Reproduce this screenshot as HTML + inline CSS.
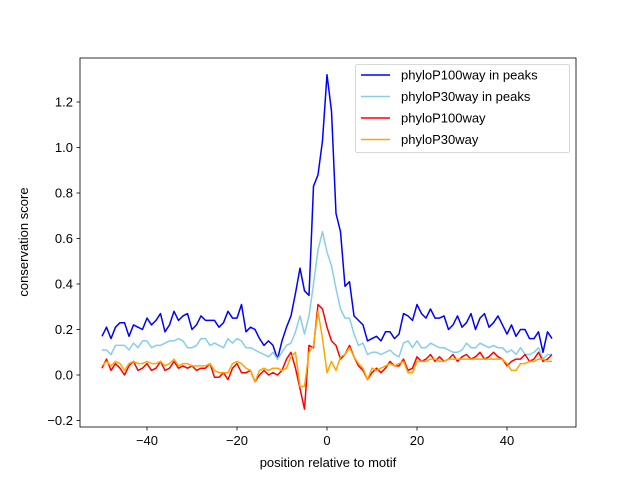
<!DOCTYPE html>
<html><head><meta charset="utf-8"><style>body{margin:0;background:#fff}svg{display:block;font-family:"Liberation Sans","DejaVu Sans",sans-serif}</style></head>
<body>
<svg id="chart" width="640" height="480" xmlns="http://www.w3.org/2000/svg"></svg>
<script>
const positions = Array.from({length:101},(_, i)=>i-50);
const p100peaks = [0.17,0.21,0.16,0.21,0.23,0.23,0.17,0.22,0.21,0.20,0.25,0.22,0.24,0.27,0.19,0.22,0.28,0.24,0.26,0.27,0.20,0.22,0.26,0.24,0.24,0.24,0.21,0.23,0.28,0.25,0.25,0.31,0.19,0.21,0.20,0.16,0.13,0.15,0.13,0.07,0.15,0.21,0.26,0.36,0.47,0.37,0.35,0.83,0.88,1.03,1.32,1.16,0.71,0.63,0.39,0.41,0.26,0.24,0.22,0.15,0.16,0.17,0.15,0.19,0.19,0.16,0.18,0.27,0.26,0.24,0.31,0.27,0.25,0.29,0.25,0.25,0.26,0.20,0.22,0.26,0.21,0.23,0.27,0.20,0.25,0.27,0.21,0.23,0.26,0.22,0.18,0.22,0.17,0.20,0.20,0.16,0.16,0.19,0.10,0.19,0.16];
const p30peaks = [0.11,0.11,0.09,0.13,0.13,0.13,0.11,0.14,0.12,0.15,0.15,0.12,0.13,0.13,0.14,0.15,0.15,0.16,0.15,0.12,0.12,0.13,0.16,0.16,0.13,0.14,0.13,0.12,0.16,0.14,0.16,0.15,0.12,0.12,0.11,0.10,0.09,0.08,0.10,0.07,0.10,0.13,0.14,0.19,0.26,0.18,0.26,0.40,0.55,0.63,0.54,0.48,0.38,0.29,0.25,0.25,0.18,0.13,0.14,0.09,0.10,0.10,0.09,0.10,0.11,0.09,0.08,0.14,0.15,0.12,0.15,0.12,0.12,0.14,0.13,0.12,0.12,0.11,0.10,0.10,0.11,0.14,0.12,0.12,0.14,0.13,0.12,0.13,0.12,0.12,0.10,0.11,0.09,0.12,0.09,0.09,0.10,0.12,0.07,0.09,0.09];
const p100 = [0.03,0.07,0.02,0.05,0.03,0.00,0.04,0.06,0.02,0.03,0.05,0.02,0.03,0.06,0.02,0.03,0.06,0.03,0.04,0.03,0.04,0.02,0.03,0.03,0.05,-0.01,-0.01,0.01,-0.02,0.03,0.05,0.01,0.01,0.02,-0.03,0.00,0.02,0.00,0.01,0.00,0.02,0.07,0.10,0.03,-0.06,-0.15,0.13,0.12,0.31,0.29,0.21,0.15,0.13,0.07,0.09,0.13,0.08,0.04,0.02,-0.02,0.01,0.03,0.01,0.03,0.06,0.04,0.04,0.07,0.02,0.03,0.08,0.06,0.07,0.09,0.06,0.08,0.06,0.07,0.09,0.06,0.08,0.09,0.07,0.08,0.10,0.07,0.08,0.10,0.08,0.07,0.04,0.06,0.07,0.07,0.09,0.06,0.07,0.10,0.06,0.07,0.09];
const p30 = [0.04,0.06,0.04,0.06,0.05,0.02,0.05,0.06,0.05,0.05,0.06,0.05,0.05,0.06,0.04,0.05,0.07,0.04,0.05,0.05,0.04,0.04,0.04,0.04,0.05,0.02,0.01,0.01,0.01,0.05,0.06,0.05,0.03,0.02,-0.03,0.02,0.03,0.02,0.03,0.03,0.02,0.03,0.08,0.10,-0.05,-0.05,0.10,0.13,0.28,0.16,0.01,0.06,0.02,0.08,0.09,0.12,0.08,0.05,0.03,-0.02,0.03,0.02,0.03,0.04,0.05,0.04,0.05,0.06,0.01,0.01,0.06,0.06,0.06,0.07,0.07,0.06,0.06,0.07,0.07,0.07,0.07,0.07,0.07,0.07,0.07,0.07,0.07,0.07,0.07,0.07,0.05,0.02,0.02,0.05,0.05,0.06,0.06,0.07,0.07,0.06,0.06];
const xTicks = [-40,-20,0,20,40];
const yTicks = [-0.2,0,0.2,0.4,0.6,0.8,1.0,1.2];
const seriesNames = ["phyloP100way in peaks","phyloP30way in peaks","phyloP100way","phyloP30way"];
const seriesColors = ["#0000ff","#87ceeb","#ff0000","#ffa500"];

const L=80,R=576,T=58,B=427;
const X=v=>327+(v)*4.5;
const Y=v=>375-v*227.5;
const svg=document.getElementById('chart');
const NS='http://www.w3.org/2000/svg';
function mk(tag,attrs,parent){const e=document.createElementNS(NS,tag);for(const k in attrs)e.setAttribute(k,attrs[k]);(parent||svg).appendChild(e);return e;}

const series=[p100peaks,p30peaks,p100,p30];
series.forEach((s,si)=>{
  const p=mk('polyline',{points:s.map((v,i)=>X(positions[i]).toFixed(1)+','+Y(v).toFixed(1)).join(' '),fill:'none',stroke:seriesColors[si],'stroke-width':1.5,'stroke-linejoin':'round'});
  
  
});
const frame=mk('rect',{x:L,y:T,width:R-L,height:B-T,fill:'none',stroke:'#000','stroke-width':0.8});


xTicks.forEach(t=>{
  mk('line',{x1:X(t),x2:X(t),y1:B,y2:B+3.5,stroke:'#000','stroke-width':0.8});
  const tx=mk('text',{x:X(t),y:B+18,'text-anchor':'middle','font-size':13});
  tx.textContent=t<0?'\u2212'+Math.abs(t):String(t);
  
  
});
yTicks.forEach(t=>{
  mk('line',{x1:L-3.5,x2:L,y1:Y(t),y2:Y(t),stroke:'#000','stroke-width':0.8});
  const tx=mk('text',{x:L-7,y:Y(t)+4.5,'text-anchor':'end','font-size':13});
  tx.textContent=t<0?'\u2212'+Math.abs(t).toFixed(1):t.toFixed(1);
  
  
});
const xl=mk('text',{x:328,y:467,'text-anchor':'middle','font-size':13});
xl.textContent='position relative to motif';


const yl=mk('text',{x:0,y:0,'text-anchor':'middle','font-size':13,transform:'translate(28,242) rotate(-90)'});
yl.textContent='conservation score';


const lg=mk('g',{});


mk('rect',{x:355.5,y:64.5,width:214,height:88,rx:2,fill:'#fff','fill-opacity':0.8,stroke:'#ccc','stroke-width':0.8},lg);
seriesNames.forEach((n,i)=>{
  const y=75+i*21.5;
  const ln=mk('line',{x1:361,x2:390,y1:y,y2:y,stroke:seriesColors[i],'stroke-width':1.5},lg);
  
  
  const t=mk('text',{x:401,y:y+4.5,'font-size':13},lg);
  t.textContent=n;
  
  
});
</script>
</body></html>
